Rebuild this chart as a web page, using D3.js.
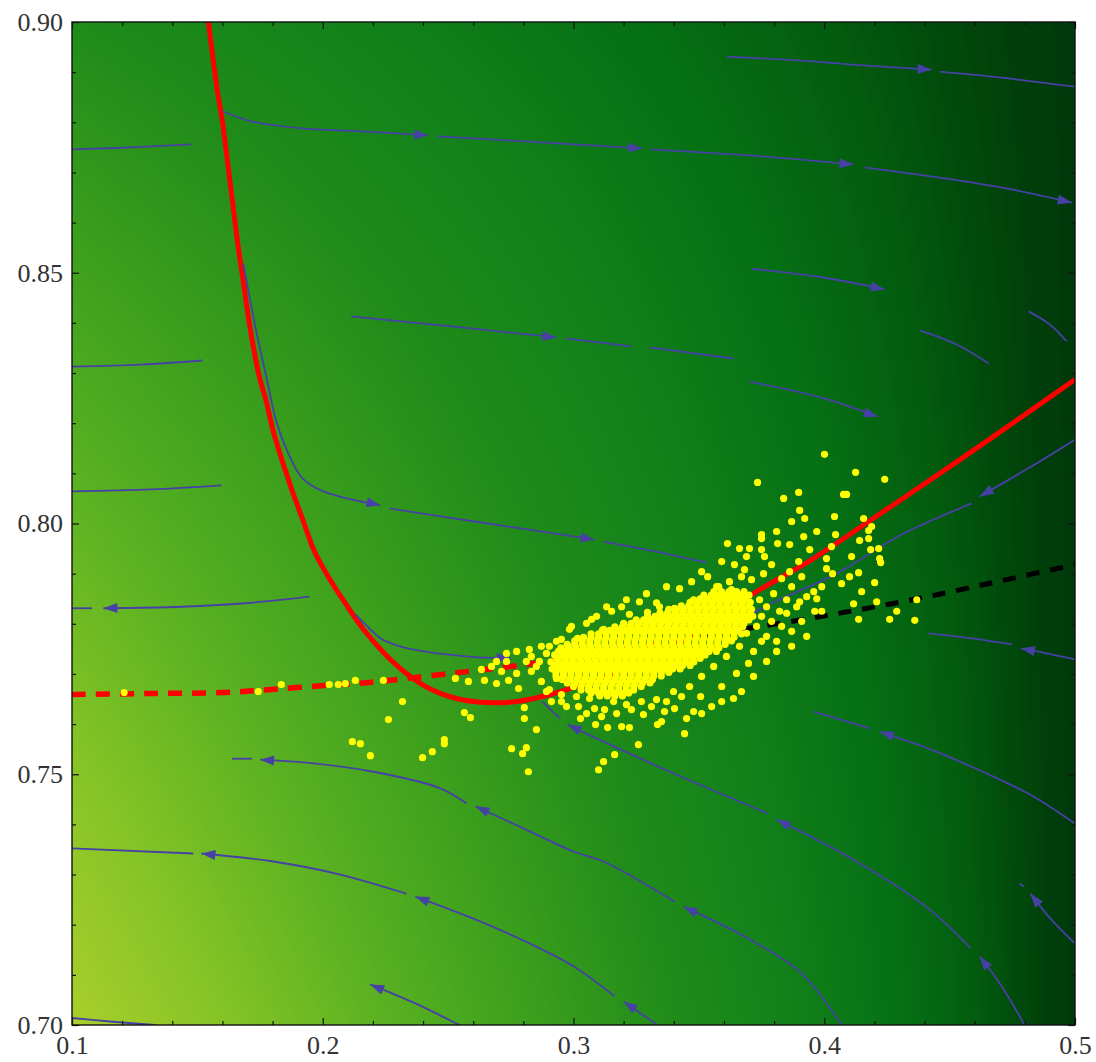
<!DOCTYPE html>
<html>
<head>
<meta charset="utf-8">
<script src="https://cdn.jsdelivr.net/npm/d3@7"></script>
<style>
  body { margin: 0; background: #fff; }
  svg { display: block; }
  .axis text { font-family: "Liberation Serif", "Times New Roman", serif; font-size: 26px; fill: #333; }
  .axis line { stroke: #111; stroke-width: 1.2; }
</style>
</head>
<body>
<script>
// ---- axes ----
var xDomain = [0.1, 0.5],
    yDomain = [0.7, 0.9];
var xTicksMajor = [0.1, 0.2, 0.3, 0.4, 0.5],
    xTicksMinor = [0.12, 0.14, 0.16, 0.18, 0.22, 0.24, 0.26, 0.28, 0.32, 0.34, 0.36, 0.38, 0.42, 0.44, 0.46, 0.48];
var yTicksMajor = [0.70, 0.75, 0.80, 0.85, 0.90],
    yTicksMinor = [0.71, 0.72, 0.73, 0.74, 0.76, 0.77, 0.78, 0.79, 0.81, 0.82, 0.83, 0.84, 0.86, 0.87, 0.88, 0.89];

// background shading (density colour map)
var shadeStops  = [0, 0.05, 0.1, 0.2, 0.3, 0.4, 0.5, 0.65, 0.8, 1],
    shadeColors = ["#003a0a", "#035d0e", "#057014", "#13821a", "#1f8b19", "#33991c", "#45a51e", "#62b522", "#84c326", "#a9cf2b"];

// ---- red nullcline (solid) ----
var redCurve = [[0.1544,0.9000],[0.1564,0.8921],[0.1580,0.8861],[0.1600,0.8802],[0.1620,0.8722],[0.1640,0.8642],
  [0.1660,0.8562],[0.1680,0.8493],[0.1700,0.8423],[0.1723,0.8353],[0.1747,0.8293],[0.1775,0.8243],[0.1803,0.8183],
  [0.1839,0.8124],[0.1879,0.8064],[0.1923,0.8004],[0.1967,0.7944],[0.2022,0.7894],[0.2086,0.7844],[0.2162,0.7789],
  [0.2246,0.7741],[0.2334,0.7701],[0.2433,0.7669],[0.2533,0.7651],[0.2653,0.7643],[0.2773,0.7645],[0.2892,0.7657],
  [0.3012,0.7675],[0.3132,0.7695],[0.3271,0.7723],[0.3411,0.7759],[0.3551,0.7801],[0.3710,0.7858],[0.3950,0.7928],
  [0.4189,0.8008],[0.4508,0.8116],[0.4748,0.8199],[0.5000,0.8287]];

// ---- dashed curve: red part and black part ----
var dashedRed = [[0.1,0.7659],[0.1316,0.7661],[0.1607,0.7663],[0.1795,0.7669],[0.2006,0.7677],[0.2186,0.7683],
  [0.2473,0.7699],[0.2685,0.7711],[0.2872,0.7723],[0.3072,0.7739],[0.3271,0.7755],[0.3490,0.7774]];
var dashedBlack = [[0.3490,0.7774],[0.3670,0.7789],[0.3898,0.7807],[0.4081,0.7823],[0.4269,0.7840],
  [0.4468,0.7860],[0.4708,0.7886],[0.5000,0.7918]];

// ---- stream line pieces (in flow order); arrow = arrowhead at the end ----
var streamPieces = [
  {arrow: true,  pts: [[0.3610,0.8931],[0.3910,0.8923],[0.4109,0.8915],[0.4428,0.8905]]},
  {arrow: false, pts: [[0.4460,0.8901],[0.4708,0.8889],[0.5000,0.8871]]},
  {arrow: true,  pts: [[0.1600,0.8822],[0.1715,0.8802],[0.1915,0.8788],[0.2154,0.8782],[0.2421,0.8774]]},
  {arrow: true,  pts: [[0.2457,0.8772],[0.2872,0.8760],[0.3275,0.8748]]},
  {arrow: true,  pts: [[0.3307,0.8746],[0.3750,0.8732],[0.4117,0.8716]]},
  {arrow: true,  pts: [[0.4161,0.8710],[0.4508,0.8686],[0.4748,0.8666],[0.4987,0.8640]]},
  {arrow: false, pts: [[0.1000,0.8746],[0.1236,0.8750],[0.1476,0.8756]]},
  {arrow: true,  pts: [[0.2114,0.8413],[0.2513,0.8393],[0.2932,0.8371]]},
  {arrow: false, pts: [[0.2968,0.8369],[0.3231,0.8353]]},
  {arrow: false, pts: [[0.3303,0.8351],[0.3638,0.8329]]},
  {arrow: true,  pts: [[0.3710,0.8508],[0.3990,0.8491],[0.4241,0.8467]]},
  {arrow: false, pts: [[0.4381,0.8385],[0.4528,0.8357],[0.4656,0.8319]]},
  {arrow: false, pts: [[0.4815,0.8423],[0.4899,0.8397],[0.4967,0.8363]]},
  {arrow: true,  pts: [[0.3702,0.8283],[0.3990,0.8251],[0.4213,0.8213]]},
  {arrow: false, pts: [[0.1000,0.8313],[0.1276,0.8317],[0.1520,0.8325]]},
  {arrow: false, pts: [[0.1000,0.8064],[0.1316,0.8068],[0.1596,0.8076]]},
  {arrow: true,  pts: [[0.1683,0.8518],[0.1735,0.8383],[0.1779,0.8283],[0.1815,0.8203],[0.1859,0.8144],[0.1919,0.8090],[0.2003,0.8064],[0.2230,0.8036]]},
  {arrow: true,  pts: [[0.2266,0.8030],[0.2633,0.8002],[0.3084,0.7968]]},
  {arrow: false, pts: [[0.3120,0.7964],[0.3311,0.7946],[0.3531,0.7922]]},
  {arrow: true,  pts: [[0.1947,0.7854],[0.1715,0.7842],[0.1436,0.7834],[0.1125,0.7831]]},
  {arrow: false, pts: [[0.1080,0.7831],[0.1000,0.7831]]},
  {arrow: true,  pts: [[0.2130,0.7819],[0.2186,0.7791],[0.2230,0.7771],[0.2294,0.7757],[0.2358,0.7749],[0.2573,0.7735],[0.2749,0.7731]]},
  {arrow: true,  pts: [[0.4999,0.8167],[0.4827,0.8114],[0.4620,0.8054]]},
  {arrow: false, pts: [[0.4588,0.8040],[0.4309,0.7978],[0.4041,0.7898],[0.3778,0.7838],[0.3591,0.7785]]},
  {arrow: true,  pts: [[0.4799,0.7000],[0.4708,0.7077],[0.4620,0.7137]]},
  {arrow: true,  pts: [[0.4584,0.7153],[0.4416,0.7232],[0.4129,0.7326],[0.3810,0.7410]]},
  {arrow: true,  pts: [[0.3774,0.7422],[0.3407,0.7500],[0.3120,0.7565],[0.2976,0.7599]]},
  {arrow: false, pts: [[0.2948,0.7611],[0.2904,0.7631],[0.2876,0.7645]]},
  {arrow: true,  pts: [[0.4999,0.7729],[0.4887,0.7741],[0.4784,0.7751]]},
  {arrow: false, pts: [[0.4748,0.7759],[0.4588,0.7771],[0.4416,0.7781]]},
  {arrow: true,  pts: [[0.4999,0.7402],[0.4819,0.7460],[0.4632,0.7505],[0.4416,0.7551],[0.4221,0.7585]]},
  {arrow: false, pts: [[0.4185,0.7591],[0.3958,0.7625]]},
  {arrow: true,  pts: [[0.4999,0.7163],[0.4902,0.7212],[0.4822,0.7262]]},
  {arrow: false, pts: [[0.4795,0.7276],[0.4779,0.7282]]},
  {arrow: true,  pts: [[0.4069,0.7000],[0.3914,0.7101],[0.3698,0.7172],[0.3439,0.7236]]},
  {arrow: true,  pts: [[0.3403,0.7246],[0.3120,0.7326],[0.3000,0.7346],[0.2800,0.7392],[0.2609,0.7436]]},
  {arrow: true,  pts: [[0.2573,0.7442],[0.2469,0.7472],[0.2202,0.7505],[0.1935,0.7523],[0.1750,0.7529]]},
  {arrow: false, pts: [[0.1718,0.7531],[0.1638,0.7531]]},
  {arrow: true,  pts: [[0.3335,0.7000],[0.3200,0.7047]]},
  {arrow: true,  pts: [[0.3164,0.7057],[0.3000,0.7117],[0.2832,0.7161],[0.2601,0.7212],[0.2369,0.7256]]},
  {arrow: true,  pts: [[0.2333,0.7262],[0.2070,0.7300],[0.1803,0.7326],[0.1516,0.7342]]},
  {arrow: false, pts: [[0.1484,0.7342],[0.1000,0.7352]]},
  {arrow: true,  pts: [[0.2545,0.7000],[0.2369,0.7043],[0.2189,0.7081]]},
  {arrow: false, pts: [[0.1331,0.7000],[0.1152,0.7007],[0.1000,0.7014]]}
];

// ---- yellow sample points: dense core, by rows [y, [x...]] ----
var cloudCoreRows = [
  [0.7864, [0.356,0.359,0.362,0.365,0.368]],
  [0.7857, [0.352,0.355,0.358,0.361,0.364,0.367,0.370]],
  [0.7850, [0.3505,0.3535,0.3565,0.3595,0.3625,0.3655,0.3685]],
  [0.7843, [0.3465,0.3495,0.3525,0.3555,0.3585,0.3615,0.3645,0.3675,0.3705]],
  [0.7836, [0.343,0.346,0.349,0.352,0.355,0.358,0.361,0.364,0.367,0.370]],
  [0.7829, [0.338,0.341,0.344,0.347,0.350,0.353,0.356,0.359,0.362,0.365,0.368,0.371]],
  [0.7822, [0.3345,0.3375,0.3405,0.3435,0.3465,0.3495,0.3525,0.3555,0.3585,0.3615,0.3645,0.3675,0.3705]],
  [0.7815, [0.3295,0.3325,0.3355,0.3385,0.3415,0.3445,0.3475,0.3505,0.3535,0.3565,0.3595,0.3625,0.3655,0.3685,0.3715]],
  [0.7808, [0.325,0.328,0.331,0.334,0.337,0.340,0.343,0.346,0.349,0.352,0.355,0.358,0.361,0.364,0.367,0.370]],
  [0.7801, [0.320,0.323,0.326,0.329,0.332,0.335,0.338,0.341,0.344,0.347,0.350,0.353,0.356,0.359,0.362,0.365,0.368]],
  [0.7794, [0.3165,0.3195,0.3225,0.3255,0.3285,0.3315,0.3345,0.3375,0.3405,0.3435,0.3465,0.3495,0.3525,0.3555,0.3585,0.3615,0.3645,0.3675]],
  [0.7787, [0.3115,0.3145,0.3175,0.3205,0.3235,0.3265,0.3295,0.3325,0.3355,0.3385,0.3415,0.3445,0.3475,0.3505,0.3535,0.3565,0.3595,0.3625,0.3655]],
  [0.7780, [0.307,0.310,0.313,0.316,0.319,0.322,0.325,0.328,0.331,0.334,0.337,0.340,0.343,0.346,0.349,0.352,0.355,0.358,0.361,0.364,0.367]],
  [0.7773, [0.304,0.307,0.310,0.313,0.316,0.319,0.322,0.325,0.328,0.331,0.334,0.337,0.340,0.343,0.346,0.349,0.352,0.355,0.358,0.361,0.364]],
  [0.7766, [0.3005,0.3035,0.3065,0.3095,0.3125,0.3155,0.3185,0.3215,0.3245,0.3275,0.3305,0.3335,0.3365,0.3395,0.3425,0.3455,0.3485,0.3515,0.3545,0.3575,0.3605,0.3630]],
  [0.7759, [0.2975,0.3005,0.3035,0.3065,0.3095,0.3125,0.3155,0.3185,0.3215,0.3245,0.3275,0.3305,0.3335,0.3365,0.3395,0.3425,0.3455,0.3485,0.3515,0.3545,0.3575,0.3605]],
  [0.7752, [0.295,0.298,0.301,0.304,0.307,0.310,0.313,0.316,0.319,0.322,0.325,0.328,0.331,0.334,0.337,0.340,0.343,0.346,0.349,0.352,0.355,0.358]],
  [0.7745, [0.294,0.297,0.300,0.303,0.306,0.309,0.312,0.315,0.318,0.321,0.324,0.327,0.330,0.333,0.336,0.339,0.342,0.345,0.348,0.351,0.354,0.357]],
  [0.7738, [0.2925,0.2955,0.2985,0.3015,0.3045,0.3075,0.3105,0.3135,0.3165,0.3195,0.3225,0.3255,0.3285,0.3315,0.3345,0.3375,0.3405,0.3435,0.3465,0.3495,0.3525]],
  [0.7731, [0.2935,0.2965,0.2995,0.3025,0.3055,0.3085,0.3115,0.3145,0.3175,0.3205,0.3235,0.3265,0.3295,0.3325,0.3355,0.3385,0.3415,0.3445,0.3475,0.3505]],
  [0.7724, [0.291,0.294,0.297,0.300,0.303,0.306,0.309,0.312,0.315,0.318,0.321,0.324,0.327,0.330,0.333,0.336,0.339,0.342,0.345,0.348]],
  [0.7717, [0.2925,0.2955,0.2985,0.3015,0.3045,0.3075,0.3105,0.3135,0.3165,0.3195,0.3225,0.3255,0.3285,0.3315,0.3345,0.3375,0.3405,0.3435,0.3465]],
  [0.7710, [0.2915,0.2945,0.2975,0.3005,0.3035,0.3065,0.3095,0.3125,0.3155,0.3185,0.3215,0.3245,0.3275,0.3305,0.3335,0.3365,0.3395,0.3425]],
  [0.7703, [0.293,0.296,0.299,0.302,0.305,0.308,0.311,0.314,0.317,0.320,0.323,0.326,0.329,0.332,0.335,0.338]],
  [0.7696, [0.293,0.296,0.299,0.302,0.305,0.308,0.311,0.314,0.317,0.320,0.323,0.326,0.329,0.332,0.335]],
  [0.7689, [0.2955,0.2985,0.3015,0.3045,0.3075,0.3105,0.3135,0.3165,0.3195,0.3225,0.3255,0.3285,0.3315]],
  [0.7682, [0.2975,0.3005,0.3035,0.3065,0.3095,0.3125,0.3155,0.3185,0.3215,0.3245,0.3275,0.3305]],
  [0.7675, [0.300,0.303,0.306,0.309,0.312,0.315,0.318,0.321,0.324,0.327]],
  [0.7668, [0.303,0.306,0.309,0.312,0.315,0.318,0.321,0.324]],
  [0.7662, [0.307,0.310,0.313,0.316,0.319,0.322]],
  [0.7656, [0.3105,0.3135,0.3165,0.3195]]
];

// ---- yellow sample points: halo and outliers [x, y] ----
var cloudPoints = [
  [0.1208,0.7663],[0.1743,0.7665],[0.1835,0.7679],[0.2026,0.7679],[0.2062,0.7679],[0.2090,0.7681],[0.2130,0.7687],
  [0.2242,0.7687],[0.2318,0.7645],[0.2262,0.7609],[0.2118,0.7565],[0.2150,0.7561],[0.2190,0.7537],[0.2398,0.7533],
  [0.2437,0.7545],[0.2485,0.7569],[0.2485,0.7561],[0.2565,0.7623],[0.2589,0.7613],[0.2529,0.7691],[0.2581,0.7685],
  [0.2645,0.7687],[0.2693,0.7681],[0.2804,0.7633],[0.2804,0.7611],[0.2852,0.7589],[0.2753,0.7551],[0.2812,0.7553],
  [0.2797,0.7541],[0.2820,0.7505],
  [0.2741,0.7687],[0.2781,0.7671],[0.2892,0.7741],[0.2932,0.7691],[0.3028,0.7611],[0.3088,0.7599],[0.3136,0.7593],
  [0.3164,0.7539],[0.3120,0.7525],[0.3100,0.7509],[0.3223,0.7593],[0.3259,0.7559],[0.3279,0.7619],[0.3335,0.7599],
  [0.3363,0.7625],[0.3403,0.7631],[0.3451,0.7611],[0.3479,0.7625],[0.3443,0.7581],[0.3507,0.7655],[0.3551,0.7635],
  [0.3638,0.7651],[0.3698,0.7721],[0.3124,0.7629],[0.3084,0.7631],[0.3020,0.7635],[0.3064,0.7651],
  [0.3423,0.7870],[0.3579,0.7874],[0.3630,0.7868],[0.3223,0.7819],[0.3295,0.7823],[0.3331,0.7842],[0.3343,0.7834],
  [0.3403,0.7831],[0.3479,0.7848],[0.3551,0.7838],[0.3016,0.7771],[0.3120,0.7789],
  [0.4001,0.8138],[0.4125,0.8102],[0.4241,0.8088],[0.3734,0.8082],[0.3898,0.8062],[0.3838,0.8050],[0.4077,0.8058],
  [0.4089,0.8058],[0.3902,0.8026],[0.3922,0.8010],[0.4041,0.8014],[0.4157,0.8010],[0.4189,0.7994],[0.4177,0.7986],
  [0.4045,0.7978],[0.4141,0.7966],[0.4177,0.7970],[0.3750,0.7978],[0.3750,0.7970],[0.3918,0.7974],[0.3614,0.7960],
  [0.3662,0.7950],[0.3702,0.7950],[0.3814,0.7960],[0.3862,0.7958],[0.4185,0.7948],[0.4217,0.7950],[0.4221,0.7930],
  [0.4225,0.7922],[0.4009,0.7930],[0.4009,0.7910],[0.4033,0.7900],[0.4101,0.7894],[0.4137,0.7902],[0.4201,0.7882],
  [0.4069,0.7880],[0.3970,0.7850],[0.3990,0.7874],[0.4117,0.7840],[0.4369,0.7848],[0.4137,0.7809],[0.4261,0.7809],
  [0.4361,0.7807],[0.3962,0.7825],[0.3990,0.7825],[0.3535,0.7894],[0.3571,0.7874],[0.3642,0.7918],[0.3682,0.7908],
  [0.3762,0.7934],[0.3790,0.7918],[0.3898,0.7924],[0.3942,0.7948],[0.3862,0.7904],[0.3830,0.7890],[0.3910,0.7894],
  [0.3742,0.7848],[0.3770,0.7834],[0.3798,0.7860],[0.3822,0.7825],[0.3850,0.7848],[0.3870,0.7874],[0.3750,0.7815],
  [0.3730,0.7795],[0.3690,0.7781],[0.3790,0.7805],[0.3890,0.7834],[0.3930,0.7854],[0.3710,0.7888],[0.3758,0.7900],
  [0.3670,0.7894],[0.3622,0.7884],[0.3830,0.7795],[0.3770,0.7775],[0.3662,0.7755],[0.3610,0.7735],[0.3559,0.7715],
  [0.3511,0.7695],[0.3463,0.7675],[0.3399,0.7665],[0.3331,0.7649],[0.3271,0.7645],[0.3211,0.7639],[0.3160,0.7645],
  [0.3591,0.7675],[0.3650,0.7701],[0.3718,0.7745],[0.3750,0.7765],[0.3810,0.7765],[0.3870,0.7785],[0.3910,0.7805],
  [0.2832,0.7705],[0.2864,0.7725],[0.2904,0.7755],[0.2952,0.7769],[0.2984,0.7789],[0.3052,0.7801],[0.3092,0.7815],
  [0.3152,0.7825],[0.3192,0.7834],[0.3263,0.7844],[0.2812,0.7725],[0.2773,0.7701],[0.2713,0.7705],[0.2872,0.7685],
  [0.2892,0.7665],[0.2952,0.7659],[0.3012,0.7655],[0.3072,0.7665],[0.2673,0.7715],[0.2733,0.7725],[0.2912,0.7645],
  [0.2972,0.7635],[0.2733,0.7741],[0.2824,0.7749],[0.2852,0.7715],
  [0.2904,0.7669],[0.2952,0.7645],[0.3052,0.7621],[0.3112,0.7615],[0.3172,0.7621],[0.3231,0.7629],[0.3311,0.7635],
  [0.3371,0.7645],[0.3431,0.7655],[0.3192,0.7595],[0.3351,0.7605],[0.3511,0.7621],[0.3591,0.7645],[0.3670,0.7665],
  [0.3718,0.7695],[0.3770,0.7725],[0.3810,0.7745],[0.3870,0.7755],[0.3930,0.7775],[0.3850,0.7821],[0.3902,0.7844],
  [0.3958,0.7864],[0.2932,0.7765],[0.2992,0.7795],[0.3072,0.7809],[0.3132,0.7834],[0.3211,0.7848],[0.3291,0.7860],
  [0.3371,0.7874],[0.3471,0.7884],[0.3511,0.7904],[0.3591,0.7924],[0.3690,0.7934],[0.3750,0.7948],[0.3810,0.7984],
  [0.3870,0.8004],[0.3970,0.7984],[0.4029,0.7954],[0.4109,0.7934],[0.4149,0.7864],[0.4209,0.7844],[0.4289,0.7825],
  [0.2872,0.7755],[0.2832,0.7735],[0.2773,0.7745],[0.2693,0.7725],[0.2633,0.7709]
];

var margin = {top: 22, right: 21, bottom: 37, left: 72},
    width = 1096 - margin.left - margin.right,
    height = 1062 - margin.top - margin.bottom;

var svg = d3.select("body").append("svg")
    .attr("width", width + margin.left + margin.right)
    .attr("height", height + margin.top + margin.bottom)
  .append("g")
    .attr("transform", "translate(" + margin.left + "," + margin.top + ")");

var x = d3.scaleLinear().domain(xDomain).range([0, width]);
var y = d3.scaleLinear().domain(yDomain).range([height, 0]);

// background: shaded field drawn into a canvas, then placed as image
var shade = d3.scaleLinear().domain(shadeStops).range(shadeColors).interpolate(d3.interpolateRgb).clamp(true);
var lut = d3.range(256).map(function (k) { return d3.rgb(shade(k / 255)); });
var canvas = document.createElement("canvas");
canvas.width = width; canvas.height = height;
var ctx = canvas.getContext("2d");
var img = ctx.createImageData(width, height);
for (var j = 0; j < height; j++) {
  var v = (y.invert(j + 0.5) - yDomain[0]) / (yDomain[1] - yDomain[0]);
  for (var i = 0; i < width; i++) {
    var u = (x.invert(i + 0.5) - xDomain[0]) / (xDomain[1] - xDomain[0]);
    var s = Math.pow(1 - u, 1.3) * (1 - 0.7 * v);
    var c = lut[Math.max(0, Math.min(255, Math.round(s * 255)))];
    var p = (j * width + i) * 4;
    img.data[p] = c.r; img.data[p + 1] = c.g; img.data[p + 2] = c.b; img.data[p + 3] = 255;
  }
}
ctx.putImageData(img, 0, 0);

svg.append("defs").append("clipPath").attr("id", "plotClip")
  .append("rect").attr("width", width).attr("height", height);

svg.append("image")
    .attr("href", canvas.toDataURL())
    .attr("width", width)
    .attr("height", height)
    .attr("preserveAspectRatio", "none");

var plot = svg.append("g").attr("clip-path", "url(#plotClip)");

var line = d3.line()
    .x(function (d) { return x(d[0]); })
    .y(function (d) { return y(d[1]); })
    .curve(d3.curveCatmullRom.alpha(0.5));

// red solid curve
plot.append("path")
    .datum(redCurve)
    .attr("fill", "none")
    .attr("stroke", "#ff0000")
    .attr("stroke-width", 5)
    .attr("d", line);

// dashed curves
plot.append("path")
    .datum(dashedRed)
    .attr("fill", "none")
    .attr("stroke", "#ff0000")
    .attr("stroke-width", 5.5)
    .attr("stroke-dasharray", "14,10")
    .attr("d", line);

plot.append("path")
    .datum(dashedBlack)
    .attr("fill", "none")
    .attr("stroke", "#000")
    .attr("stroke-width", 5)
    .attr("stroke-dasharray", "13,11")
    .attr("d", line);

// stream lines
var streamColor = "#4741a6";
plot.append("g").selectAll("path")
    .data(streamPieces)
    .enter()
    .append("path")
    .attr("fill", "none")
    .attr("stroke", streamColor)
    .attr("stroke-width", 1.8)
    .attr("d", function (d) { return line(d.pts); });

plot.append("g").selectAll("path")
    .data(streamPieces.filter(function (d) { return d.arrow; }))
    .enter()
    .append("path")
    .attr("fill", streamColor)
    .attr("d", function (d) {
      var n = d.pts.length;
      var tx = x(d.pts[n - 1][0]), ty = y(d.pts[n - 1][1]);
      var px = x(d.pts[n - 2][0]), py = y(d.pts[n - 2][1]);
      var len = Math.hypot(tx - px, ty - py);
      var ux = (tx - px) / len, uy = (ty - py) / len;
      var L = 14, w = 5;
      var bx = tx - ux * L, by = ty - uy * L;
      return "M" + tx + "," + ty +
             "L" + (bx - uy * w) + "," + (by + ux * w) +
             "L" + (bx + uy * w) + "," + (by - ux * w) + "Z";
    });

// yellow points
var cloud = [];
cloudCoreRows.forEach(function (row) {
  row[1].forEach(function (xv) { cloud.push([xv, row[0]]); });
});
cloud = cloud.concat(cloudPoints);

plot.append("g").selectAll("circle")
    .data(cloud)
    .enter()
    .append("circle")
    .attr("cx", function (d) { return x(d[0]); })
    .attr("cy", function (d) { return y(d[1]); })
    .attr("r", 3.6)
    .attr("fill", "#ffff00");

// axes: ticks inside, labels on left and bottom
function clean(g) { g.select(".domain").remove(); }

svg.append("g").attr("class", "axis").attr("transform", "translate(0," + height + ")")
    .call(d3.axisBottom(x).tickValues(xTicksMinor).tickSize(-4).tickFormat("")).call(clean);
svg.append("g").attr("class", "axis").attr("transform", "translate(0," + height + ")")
    .call(d3.axisBottom(x).tickValues(xTicksMajor).tickSize(-7).tickPadding(11).tickFormat(d3.format(".1f"))).call(clean);
svg.append("g").attr("class", "axis")
    .call(d3.axisTop(x).tickValues(xTicksMinor).tickSize(-4).tickFormat("")).call(clean);
svg.append("g").attr("class", "axis")
    .call(d3.axisTop(x).tickValues(xTicksMajor).tickSize(-7).tickFormat("")).call(clean);

svg.append("g").attr("class", "axis")
    .call(d3.axisLeft(y).tickValues(yTicksMinor).tickSize(-4).tickFormat("")).call(clean);
svg.append("g").attr("class", "axis")
    .call(d3.axisLeft(y).tickValues(yTicksMajor).tickSize(-7).tickPadding(9).tickFormat(d3.format(".2f"))).call(clean);
svg.append("g").attr("class", "axis").attr("transform", "translate(" + width + ",0)")
    .call(d3.axisRight(y).tickValues(yTicksMinor).tickSize(-4).tickFormat("")).call(clean);
svg.append("g").attr("class", "axis").attr("transform", "translate(" + width + ",0)")
    .call(d3.axisRight(y).tickValues(yTicksMajor).tickSize(-7).tickFormat("")).call(clean);

svg.append("rect")
    .attr("width", width)
    .attr("height", height)
    .attr("fill", "none")
    .attr("stroke", "#111")
    .attr("stroke-width", 1.4);
</script>
</body>
</html>
